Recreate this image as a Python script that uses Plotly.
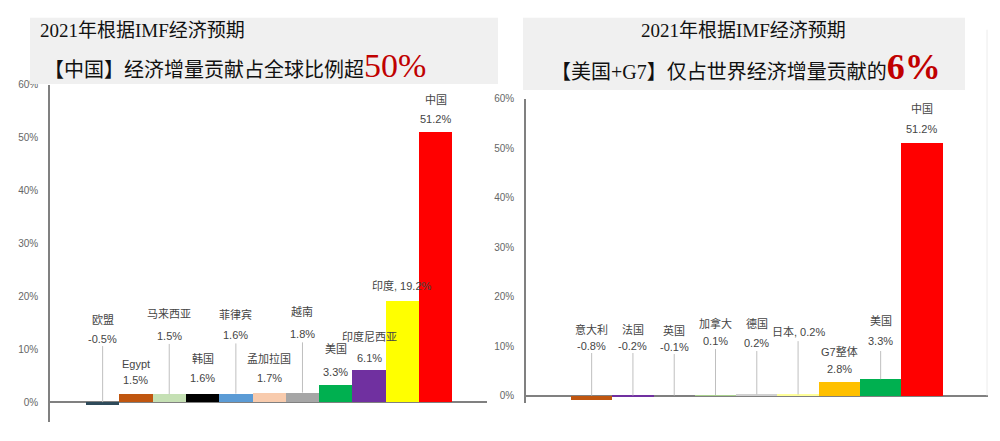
import plotly.graph_objects as go

# ---------------- data ----------------
left_names = ['欧盟', 'Egypt', '马来西亚', '韩国', '菲律宾', '孟加拉国', '越南', '美国', '印度尼西亚', '印度', '中国']
left_values = [-0.5, 1.5, 1.5, 1.6, 1.6, 1.7, 1.8, 3.3, 6.1, 19.2, 51.2]
left_colors = ['#2e4a5a', '#c0560f', '#c5e0b4', '#000000', '#5b9bd5', '#f8cbad',
               '#a6a6a6', '#00b050', '#7030a0', '#ffff00', '#ff0000']

right_names = ['意大利', '法国', '英国', '加拿大', '德国', '日本', 'G7整体', '美国', '中国']
right_values = [-0.8, -0.2, -0.1, 0.1, 0.2, 0.2, 2.8, 3.3, 51.2]
right_colors = ['#c0560f', '#7030a0', '#7f7f7f', '#a9d18e', '#d0d0d0', '#ffff99',
                '#ffc000', '#00b050', '#ff0000']

y_ticks = [0, 10, 20, 30, 40, 50, 60]

# label layout: (name_y, value_y or None for single-line "name, value", leader_top or None)
left_label_pos = [(15.6, 11.9, 10.6), (7.2, 4.1, None), (16.6, 12.5, 11.0), (8.2, 4.5, None),
                  (16.6, 12.7, 11.1), (8.2, 4.5, None), (17.1, 12.8, 11.3), (10.0, 5.6, None),
                  (12.5, 8.4, None), (22.0, None, None), (57.2, 53.5, None)]
right_label_pos = [(13.4, 10.0, 8.6), (13.4, 10.0, 8.6), (13.2, 9.8, 8.4), (14.6, 11.0, 9.4),
                   (14.6, 10.6, 9.0), (13.0, None, 11.0), (9.0, 5.4, None), (15.0, 11.0, 9.0),
                   (58.0, 54.0, None)]

LBL_FONT = "Liberation Sans Narrow, Liberation Sans, Noto Sans CJK SC"
TITLE_FONT = "Liberation Serif, Noto Sans CJK SC"
LBL_COLOR = '#454545'


def fmt(v):
    return f"{v:.1f}%"


fig = go.Figure()
fig.add_trace(go.Bar(x=left_names, y=left_values, marker=dict(color=left_colors, line=dict(width=0)),
                     xaxis='x', yaxis='y', hoverinfo='skip', showlegend=False))
fig.add_trace(go.Bar(x=right_names, y=right_values, marker=dict(color=right_colors, line=dict(width=0)),
                     xaxis='x2', yaxis='y2', hoverinfo='skip', showlegend=False))

annotations = []
shapes = []


def add_labels(names, values, pos, xref, yref, size):
    for i, (n, v) in enumerate(zip(names, values)):
        ny, vy, lt = pos[i]
        f = dict(family=LBL_FONT, size=size, color=LBL_COLOR)
        if vy is None:
            annotations.append(dict(x=n, y=ny, xref=xref, yref=yref, text=f"{n}, {fmt(v)}",
                                    showarrow=False, yanchor='middle', font=f))
        else:
            annotations.append(dict(x=n, y=ny, xref=xref, yref=yref, text=n, showarrow=False,
                                    yanchor='middle', font=f))
            annotations.append(dict(x=n, y=vy, xref=xref, yref=yref, text=fmt(v), showarrow=False,
                                    yanchor='middle', font=f))
        if lt is not None:
            shapes.append(dict(type='line', xref=xref, yref=yref, x0=i, x1=i, y0=lt, y1=max(v, 0),
                               line=dict(color='#bfbfbf', width=1)))


add_labels(left_names, left_values, left_label_pos, 'x', 'y', 11)
add_labels(right_names, right_values, right_label_pos, 'x2', 'y2', 11)

H = 441.0


def py(p):
    return (H - p) / H


# title boxes
shapes.append(dict(type='rect', xref='paper', yref='paper', x0=0.030, x1=0.498, y0=py(80), y1=py(13),
                   fillcolor='#f0f0f0', line=dict(width=0), layer='above'))
shapes.append(dict(type='rect', xref='paper', yref='paper', x0=0.523, x1=0.965, y0=py(86), y1=py(13),
                   fillcolor='#f0f0f0', line=dict(width=0), layer='above'))
# faint right border
shapes.append(dict(type='line', xref='paper', yref='paper', x0=0.987, x1=0.987, y0=py(395), y1=py(25),
                   line=dict(color='#ececec', width=1)))

annotations += [
    dict(xref='paper', yref='paper', x=0.038, y=py(26), xanchor='left', yanchor='middle', showarrow=False,
         text='2021年根据IMF经济预期', font=dict(family=TITLE_FONT, size=19, color='#111111')),
    dict(xref='paper', yref='paper', x=0.042, y=py(61), xanchor='left', yanchor='middle', showarrow=False,
         text="【中国】经济增量贡献占全球比例超<span style='font-size:34px;color:#c00000'>50%</span>",
         font=dict(family=TITLE_FONT, size=20, color='#111111')),
    dict(xref='paper', yref='paper', x=0.743, y=py(26), xanchor='center', yanchor='middle', showarrow=False,
         text='2021年根据IMF经济预期', font=dict(family=TITLE_FONT, size=19, color='#111111')),
    dict(xref='paper', yref='paper', x=0.746, y=py(63), xanchor='center', yanchor='middle', showarrow=False,
         text="【美国+G7】仅占世界经济增量贡献的<b><span style='font-size:36px;color:#c00000'>6%</span></b>",
         font=dict(family=TITLE_FONT, size=20, color='#111111')),
]

axis_common = dict(showgrid=False, zeroline=False, showticklabels=False, fixedrange=True)
yaxis_common = dict(showgrid=False, zeroline=True, zerolinecolor='#808080', zerolinewidth=2,
                    showline=True, linecolor='#808080', linewidth=1.5,
                    tickvals=y_ticks, ticktext=[f"{t}%" for t in y_ticks],
                    ticks='outside', ticklen=8, tickcolor='rgba(0,0,0,0)',
                    tickfont=dict(family=LBL_FONT, size=10, color='#666666'))

fig.update_layout(
    width=1000, height=441, margin=dict(l=0, r=0, t=0, b=0),
    paper_bgcolor='white', plot_bgcolor='white', bargap=0,
    xaxis=dict(domain=[0.050, 0.487], range=[-1.58, 11.54], anchor='y', **axis_common),
    yaxis=dict(domain=[py(422), py(80.7)], range=[-3.8, 60], anchor='x', **yaxis_common),
    xaxis2=dict(domain=[0.526, 0.988], range=[-1.59, 9.6], anchor='y2', **axis_common),
    yaxis2=dict(domain=[py(403), py(95)], range=[-1.6, 60], anchor='x2', **yaxis_common),
    annotations=annotations, shapes=shapes,
)

fig.write_html("out.html")
